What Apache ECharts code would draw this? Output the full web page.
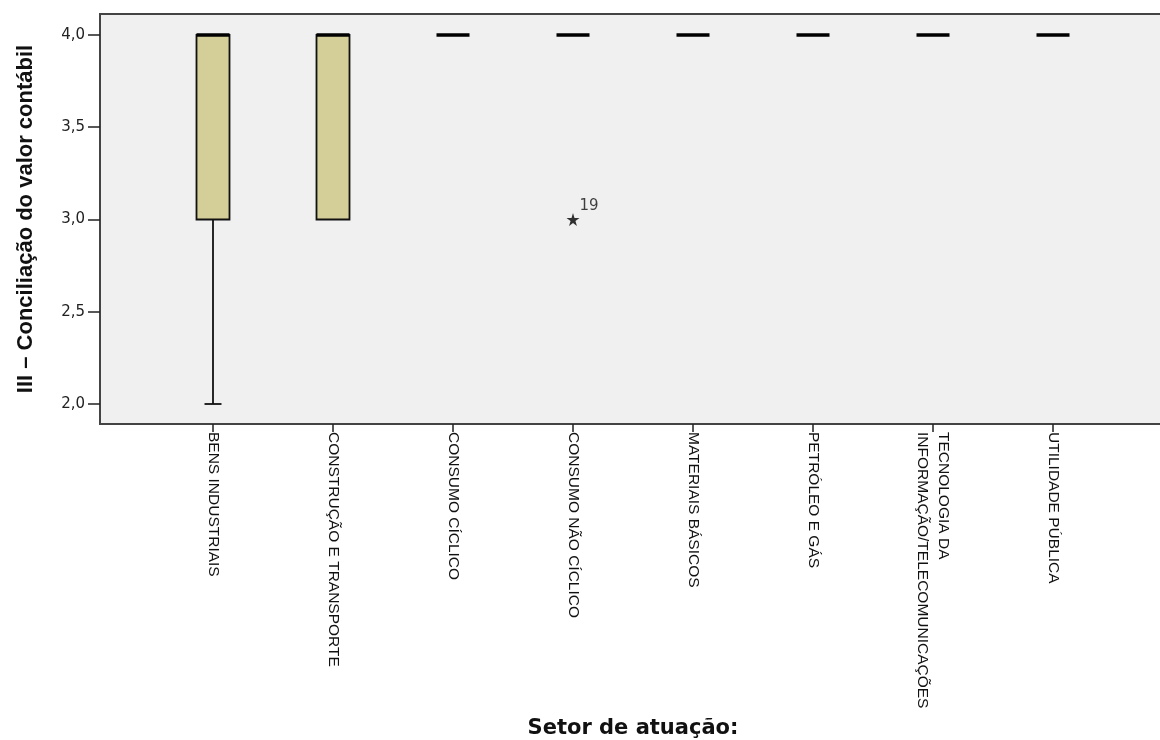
<!DOCTYPE html>
<html>
<head>
<meta charset="utf-8">
<script src="https://cdn.jsdelivr.net/npm/echarts@6/dist/echarts.min.js"></script>
<style>
  html, body { margin: 0; padding: 0; background: #fff; }
  #chart { width: 1160px; height: 740px; }
</style>
</head>
<body>
<div id="chart"></div>
<script>
// setores e estatisticas do boxplot
const categories = [
  'BENS INDUSTRIAIS',
  'CONSTRUÇÃO E TRANSPORTE',
  'CONSUMO CÍCLICO',
  'CONSUMO NÃO CÍCLICO',
  'MATERIAIS BÁSICOS',
  'PETRÓLEO E GÁS',
  'TECNOLOGIA DA\nINFORMAÇÃO/TELECOMUNICAÇÕES',
  'UTILIDADE PÚBLICA'
]
const minVals = [2, 3, 4, 4, 4, 4, 4, 4]
const q1Vals = [3, 3, 4, 4, 4, 4, 4, 4]
const medianVals = [4, 4, 4, 4, 4, 4, 4, 4]
const q3Vals = [4, 4, 4, 4, 4, 4, 4, 4]
const maxVals = [4, 4, 4, 4, 4, 4, 4, 4]
// outliers: [indice da categoria, valor, rotulo]
const outliers = [[3, 3.0, '19']]
const yTicks = [2.0, 2.5, 3.0, 3.5, 4.0]

const Y_MIN = 1.8916
const Y_MAX = 4.1138

const boxData = categories.map((c, i) => [i, minVals[i], q1Vals[i], medianVals[i], q3Vals[i], maxVals[i]])

function renderBox(params, api) {
  const x = api.value(0)
  const pMin = api.coord([x, api.value(1)])
  const pQ1 = api.coord([x, api.value(2)])
  const pMed = api.coord([x, api.value(3)])
  const pQ3 = api.coord([x, api.value(4)])
  const pMax = api.coord([x, api.value(5)])
  const cx = pMed[0]
  const half = 16.5
  const cap = 8.5
  const children = []
  const line = { stroke: '#111', lineWidth: 1.8 }

  if (api.value(1) < api.value(2)) {
    children.push({ type: 'line', shape: { x1: cx, y1: pQ1[1], x2: cx, y2: pMin[1] }, style: line })
    children.push({ type: 'line', shape: { x1: cx - cap, y1: pMin[1], x2: cx + cap, y2: pMin[1] }, style: line })
  }
  if (api.value(5) > api.value(4)) {
    children.push({ type: 'line', shape: { x1: cx, y1: pQ3[1], x2: cx, y2: pMax[1] }, style: line })
    children.push({ type: 'line', shape: { x1: cx - cap, y1: pMax[1], x2: cx + cap, y2: pMax[1] }, style: line })
  }
  if (api.value(4) > api.value(2)) {
    children.push({
      type: 'rect',
      shape: { x: cx - half, y: pQ3[1], width: half * 2, height: pQ1[1] - pQ3[1] },
      style: { fill: '#d4ce98', stroke: '#111', lineWidth: 1.8 }
    })
  }
  children.push({
    type: 'line',
    shape: { x1: cx - half, y1: pMed[1], x2: cx + half, y2: pMed[1] },
    style: { stroke: '#000', lineWidth: 3.5 }
  })
  return { type: 'group', children: children }
}

const option = {
  backgroundColor: '#fff',
  animation: false,
  grid: [{
    left: 100,
    top: 14,
    width: 1080,
    height: 410,
    outerBoundsMode: 'none',
    containLabel: false,
    show: true,
    backgroundColor: '#f0f0f0',
    borderColor: '#444',
    borderWidth: 2
  }, {
    left: 153,
    top: 14,
    width: 960,
    height: 410,
    outerBoundsMode: 'none',
    containLabel: false
  }],
  xAxis: [{
    gridIndex: 0,
    type: 'value',
    min: 0,
    max: 1,
    show: false
  }, {
    gridIndex: 1,
    type: 'category',
    data: categories,
    name: 'Setor de atuação:',
    nameLocation: 'middle',
    nameGap: 294,
    nameTextStyle: { fontFamily: 'DejaVu Sans', fontWeight: 'bold', fontSize: 21, color: '#111' },
    axisLine: { show: false },
    axisTick: { show: true, alignWithLabel: true, interval: 0, length: 8, lineStyle: { color: '#222', width: 1.5 } },
    axisLabel: {
      interval: 0,
      rotate: -90,
      margin: 8,
      fontFamily: 'Liberation Sans',
      fontSize: 15.5,
      lineHeight: 21,
      color: '#111'
    },
    splitLine: { show: false }
  }],
  yAxis: [{
    gridIndex: 0,
    type: 'value',
    min: Y_MIN,
    max: Y_MAX,
    name: 'III – Conciliação do valor contábil',
    nameLocation: 'middle',
    nameGap: 63,
    nameTextStyle: { fontFamily: 'Liberation Sans', fontWeight: 'bold', fontSize: 22, color: '#111' },
    axisLine: { show: false },
    axisTick: { show: true, length: 12, customValues: yTicks, lineStyle: { color: '#222', width: 1.5 } },
    axisLabel: {
      customValues: yTicks,
      margin: 15,
      fontFamily: 'DejaVu Sans',
      fontSize: 15,
      color: '#222',
      formatter: v => v.toFixed(1).replace('.', ',')
    },
    splitLine: { show: false }
  }, {
    gridIndex: 1,
    type: 'value',
    min: Y_MIN,
    max: Y_MAX,
    show: false
  }],
  series: [{
    type: 'custom',
    xAxisIndex: 1,
    yAxisIndex: 1,
    data: boxData,
    renderItem: renderBox,
    encode: { x: 0, y: [1, 2, 3, 4, 5] }
  }, {
    type: 'scatter',
    xAxisIndex: 1,
    yAxisIndex: 1,
    symbol: 'path://M50,0 L61,35 L98,35 L68,57 L79,92 L50,70 L21,92 L32,57 L2,35 L39,35 Z',
    symbolSize: 13,
    itemStyle: { color: '#000' },
    data: outliers.map(o => ({ value: [o[0], o[1]], name: o[2] })),
    label: {
      show: true,
      formatter: p => p.name,
      position: [13, -14],
      fontFamily: 'DejaVu Sans',
      fontSize: 15,
      color: '#111'
    }
  }]
}

const myChart = echarts.init(document.getElementById('chart'))
myChart.setOption(option)
</script>
</body>
</html>
